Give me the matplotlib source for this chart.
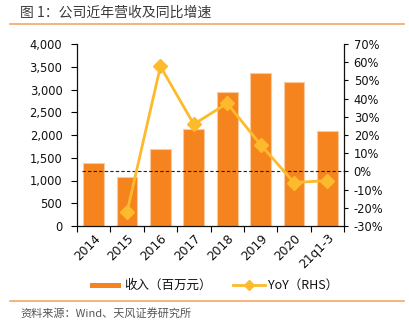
import matplotlib
matplotlib.use("Agg")
import matplotlib.pyplot as plt
from matplotlib.lines import Line2D
from matplotlib.patches import Rectangle
import numpy as np

categories = ["2014", "2015", "2016", "2017", "2018", "2019", "2020", "21q1-3"]
revenue = [1378, 1077, 1699, 2139, 2938, 3370, 3165, 2095]          # 百万元
yoy_x = ["2015", "2016", "2017", "2018", "2019", "2020", "21q1-3"]
yoy = [-22.3, 57.7, 25.9, 37.4, 14.7, -6.1, -5.1]                      # %

left_ticks = [0, 500, 1000, 1500, 2000, 2500, 3000, 3500, 4000]
right_ticks = [-30, -20, -10, 0, 10, 20, 30, 40, 50, 60, 70]

BAR = "#F5841F"
BAR_EDGE = "#F9C9A0"
LINE = "#FDBA2C"
RULE = "#F2A765"

cjk = ["Noto Sans CJK SC", "DejaVu Sans"]
num = ["DejaVu Sans", "Noto Sans CJK SC"]

fig = plt.figure(figsize=(4.09, 3.32), dpi=100)
W, H = 409, 332


def fx(px):
    return px / W


def fy(py):
    return 1 - py / H


ax = fig.add_axes([fx(77), fy(226), (344 - 77) / W, (226 - 44) / H])
ax2 = ax.twinx()

x = np.arange(len(categories))
ax.bar(x, revenue, width=0.62, color=BAR, edgecolor=BAR_EDGE, linewidth=0.8, zorder=2)
ax.set_xlim(-0.5, len(categories) - 0.5)
ax.set_ylim(0, 4000)
ax.set_yticks(left_ticks)
ax.set_yticklabels([f"{v:,}" for v in left_ticks], fontfamily=num, fontsize=8.3, color="#111111")

ax.set_xticks(np.arange(len(categories) + 1) - 0.5)
ax.set_xticklabels([])
ax.set_xticks(x, minor=True)
ax.set_xticklabels(categories, minor=True, rotation=45, ha="right", rotation_mode="anchor",
                   fontfamily=num, fontsize=8.8, color="#111111")
ax.tick_params(axis="x", which="minor", length=0, pad=4)
ax.tick_params(axis="x", which="major", length=4, width=0.8, direction="out")
ax.tick_params(axis="y", length=4, width=0.8, direction="out", pad=6.5)

yx = [categories.index(c) for c in yoy_x]
ax2.set_ylim(-30, 70)
ax2.set_yticks(right_ticks)
ax2.set_yticklabels([f"{v}%" for v in right_ticks], fontfamily=num, fontsize=8.3, color="#111111")
ax2.tick_params(axis="y", length=3, width=0.8, direction="out", pad=4)
ax2.hlines(0, -0.35, len(categories) - 0.5, colors="#222222", linestyles=(0, (3, 2)),
           linewidth=0.8, zorder=3)
ax2.plot(yx, yoy, color=LINE, linewidth=2, marker="D", markersize=7, zorder=4)

for a in (ax, ax2):
    a.spines["top"].set_visible(False)
    for s in a.spines.values():
        s.set_linewidth(0.9)
        s.set_color("#111111")
ax.spines["right"].set_visible(False)
ax2.spines["left"].set_visible(False)
ax2.spines["bottom"].set_visible(False)

# title, rules and source
fig.text(fx(20), fy(13), "图 1：公司近年营收及同比增速", fontfamily=cjk, fontsize=10,
         color="#3A3A3A", va="center", ha="left")
fig.add_artist(Line2D([fx(10), fx(404)], [fy(24), fy(24)], color=RULE, linewidth=1.2))
fig.add_artist(Line2D([fx(10), fx(404)], [fy(301), fy(301)], color=RULE, linewidth=1.2))
fig.text(fx(20), fy(313), "资料来源：Wind、天风证券研究所", fontfamily=cjk, fontsize=8,
         color="#555555", va="center", ha="left")

# legend
ly = 285
fig.add_artist(Rectangle((fx(90), fy(ly + 2.5)), (121 - 90) / W, 5 / H,
                         facecolor=BAR, edgecolor="none", transform=fig.transFigure))
fig.text(fx(124), fy(ly), "收入（百万元）", fontfamily=cjk, fontsize=9,
         color="#111111", va="center", ha="left")
fig.add_artist(Line2D([fx(233), fx(265)], [fy(ly), fy(ly)], color=LINE, linewidth=2))
fig.add_artist(Line2D([fx(249)], [fy(ly)], color=LINE, marker="D", markersize=5,
                      linestyle="none"))
fig.text(fx(268), fy(ly), "YoY（RHS）", fontfamily=cjk, fontsize=9,
         color="#111111", va="center", ha="left")

fig.savefig("out.png", dpi=100)
